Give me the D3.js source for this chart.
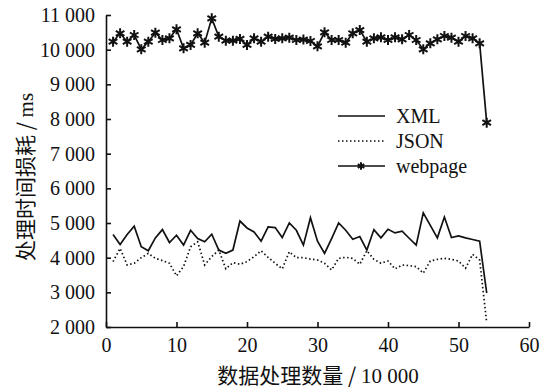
<!DOCTYPE html>
<html>
<head>
<meta charset="utf-8">
<script src="https://cdn.jsdelivr.net/npm/d3@7"></script>
<style>
  body { margin: 0; background: #fff; }
  text { fill: #111; }
</style>
</head>
<body>
<div id="chart"></div>
<script>
// Data (x = records / 10 000, y = ms)
const xValues = d3.range(1, 55);
const xmlValues = [4667, 4381, 4667, 4905, 4314, 4200, 4571, 4810, 4438, 4648,
  4362, 4790, 4552, 4457, 4676, 4219, 4124, 4219, 5057, 4857,
  4743, 4476, 4886, 4867, 4581, 5000, 4790, 4362, 5152, 4476,
  4124, 4552, 5000, 4790, 4533, 4610, 4219, 4810, 4571, 4819,
  4714, 4762, 4560, 4362, 5295, 4933, 4571, 5171, 4581, 4629,
  4571, 4524, 4476, 2981];
const jsonValues = [3886, 4267, 3790, 3838, 4000, 4124, 3981, 3914, 3838, 3476,
  3743, 4314, 4457, 3790, 4029, 4219, 3676, 3857, 3810, 3886,
  4029, 4200, 4010, 3838, 3676, 4171, 4000, 4000, 3960, 3933,
  3838, 3648, 3981, 4010, 3981, 3810, 4200, 3950, 3840, 3905,
  3676, 3790, 3771, 3743, 3552, 3905, 3952, 3981, 3952, 3905,
  3695, 4095, 3933, 2124];
const webValues = [10230, 10472, 10230, 10423, 10010, 10230, 10490, 10279, 10327, 10587,
  10039, 10135, 10472, 10202, 10904, 10375, 10259, 10259, 10308, 10135,
  10327, 10230, 10375, 10308, 10327, 10346, 10279, 10290, 10250, 10095,
  10500, 10279, 10279, 10202, 10472, 10567, 10230, 10327, 10356, 10279,
  10356, 10298, 10423, 10279, 10010, 10183, 10298, 10394, 10346, 10230,
  10394, 10327, 10183, 7894];
const xTicks = [0, 10, 20, 30, 40, 50, 60];
const yTicks = [2000, 3000, 4000, 5000, 6000, 7000, 8000, 9000, 10000, 11000];
const seriesNames = ["XML", "JSON", "webpage"];

const width = 553, height = 388;
const plotLeft = 106, plotRight = 529, plotTop = 15, plotBottom = 327;
const serif = "'Liberation Serif', 'Times New Roman', serif";
const cjk = "'Noto Sans CJK SC', sans-serif";

const svg = d3.select("#chart").append("svg")
  .attr("width", width)
  .attr("height", height);

const x = d3.scaleLinear().domain([0, 60]).range([plotLeft, plotRight]);
const y = d3.scaleLinear().domain([2000, 11000]).range([plotBottom, plotTop]);

// thousands with a space, like "11 000"
const fmt = (d) => d3.format(",")(d).replace(/,/g, " ");

// axes, ticks pointing inside
const xAxis = d3.axisBottom(x).tickValues(xTicks).tickSizeInner(-5).tickSizeOuter(0).tickPadding(11);
const yAxis = d3.axisLeft(y).tickValues(yTicks).tickSizeInner(-5).tickSizeOuter(0).tickPadding(11).tickFormat(fmt);

const gx = svg.append("g").attr("transform", `translate(0,${plotBottom})`).call(xAxis);
const gy = svg.append("g").attr("transform", `translate(${plotLeft},0)`).call(yAxis);
[gx, gy].forEach((g) => {
  g.selectAll("path, line").attr("stroke", "#111").attr("stroke-width", 1.6);
  g.selectAll("text").attr("font-family", serif).attr("font-size", 20).attr("fill", "#111");
});

// axis titles
svg.append("text")
  .attr("x", 318)
  .attr("y", 383)
  .attr("text-anchor", "middle")
  .attr("font-size", 21)
  .attr("font-family", cjk)
  .text("数据处理数量 / ")
  .append("tspan").attr("font-family", serif).text("10 000");

svg.append("text")
  .attr("transform", "translate(33,177) rotate(-90)")
  .attr("text-anchor", "middle")
  .attr("font-size", 21)
  .attr("font-family", cjk)
  .text("处理时间损耗 / ")
  .append("tspan").attr("font-family", serif).text("ms");

// lines
const line = (vals) => d3.line().x((d, i) => x(xValues[i])).y((d) => y(d))(vals);

svg.append("path").attr("d", line(xmlValues))
  .attr("fill", "none").attr("stroke", "#111").attr("stroke-width", 1.7);
svg.append("path").attr("d", line(jsonValues))
  .attr("fill", "none").attr("stroke", "#111").attr("stroke-width", 1.7)
  .attr("stroke-dasharray", "1.5,2.5");
svg.append("path").attr("d", line(webValues))
  .attr("fill", "none").attr("stroke", "#111").attr("stroke-width", 1.7);

const star = d3.symbol().type(d3.symbolAsterisk).size(70);
svg.append("g").selectAll("path")
  .data(webValues)
  .enter()
  .append("path")
  .attr("d", star)
  .attr("transform", (d, i) => `translate(${x(xValues[i])},${y(d)})`)
  .attr("fill", "none")
  .attr("stroke", "#111")
  .attr("stroke-width", 2);

// legend
const legendY = [116, 141, 166];
const legend = svg.append("g");
legend.selectAll("line")
  .data(seriesNames)
  .enter()
  .append("line")
  .attr("x1", 338).attr("x2", 385)
  .attr("y1", (d, i) => legendY[i]).attr("y2", (d, i) => legendY[i])
  .attr("stroke", "#111").attr("stroke-width", 1.7)
  .attr("stroke-dasharray", (d) => d === "JSON" ? "1.5,2.5" : null);
legend.append("path")
  .attr("d", d3.symbol().type(d3.symbolAsterisk).size(40))
  .attr("transform", `translate(361,${legendY[2]})`)
  .attr("fill", "none").attr("stroke", "#111").attr("stroke-width", 2);
legend.selectAll("text")
  .data(seriesNames)
  .enter()
  .append("text")
  .attr("x", 396)
  .attr("y", (d, i) => legendY[i] + 7)
  .attr("font-family", serif)
  .attr("font-size", 20)
  .text((d) => d);
</script>
</body>
</html>
